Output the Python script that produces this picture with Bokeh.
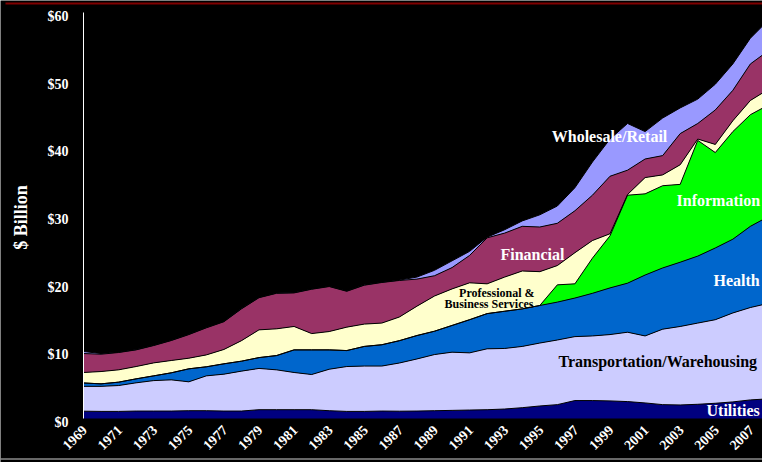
import math
import numpy as np
from bokeh.plotting import figure
from bokeh.models import ColumnDataSource, Range1d, Label
from bokeh.embed import file_html
from bokeh.resources import INLINE

years = list(range(1969, 2009))

utilities = [1.08, 1.05, 1.05, 1.10, 1.10, 1.10, 1.15, 1.15, 1.10, 1.10,
             1.30, 1.30, 1.30, 1.30, 1.15, 1.05, 1.05, 1.10, 1.08, 1.10,
             1.15, 1.20, 1.25, 1.30, 1.40, 1.60, 1.85, 2.05, 2.65, 2.65,
             2.60, 2.50, 2.30, 2.05, 2.00, 2.10, 2.25, 2.45, 2.75, 2.90]
transportation = [3.67, 3.70, 3.82, 4.17, 4.50, 4.61, 4.27, 5.15, 5.45, 5.90,
                  6.10, 5.89, 5.50, 5.20, 6.13, 6.63, 6.70, 6.65, 7.12, 7.70,
                  8.30, 8.60, 8.45, 9.00, 8.95, 9.05, 9.30, 9.55, 9.45, 9.55,
                  9.80, 10.25, 9.90, 11.15, 11.60, 12.00, 12.35, 13.15, 13.65, 14.10]
health = [0.50, 0.37, 0.50, 0.59, 0.70, 1.04, 1.92, 1.34, 1.53, 1.47,
          1.60, 2.11, 3.34, 3.64, 2.86, 2.36, 2.90, 3.15, 3.30, 3.46,
          3.45, 3.95, 4.90, 5.20, 5.50, 5.55, 5.55, 5.60, 5.70, 6.30,
          6.90, 7.25, 9.00, 9.05, 9.50, 9.90, 10.60, 10.90, 12.00, 12.80]
information = [0, 0, 0, 0, 0, 0, 0, 0, 0, 0,
               0, 0, 0, 0, 0, 0, 0, 0, 0, 0,
               0, 0, 0, 0, 0, 0, 0, 2.55, 2.10, 5.20,
               7.70, 13.00, 12.00, 12.15, 11.50, 17.10, 14.10, 15.90, 16.50, 16.50]
professional = [1.55, 1.82, 1.82, 1.82, 1.92, 1.82, 1.57, 1.76, 2.12, 3.03,
                4.10, 3.95, 3.46, 2.41, 2.71, 3.46, 3.30, 3.20, 3.50, 4.34,
                5.20, 5.40, 5.45, 4.40, 5.05, 5.60, 5.00, 2.85, 4.60, 2.60,
                0.30, 0.10, 2.40, 1.60, 2.90, 0.20, 1.20, 1.60, 2.10, 2.30]
financial = [2.80, 2.56, 2.56, 2.46, 2.56, 2.95, 3.49, 4.00, 4.10, 4.70,
             4.75, 5.25, 4.96, 6.55, 6.65, 5.30, 5.75, 6.00, 5.40, 4.00,
             3.00, 3.15, 4.05, 6.80, 6.50, 6.60, 6.60, 6.25, 6.20, 6.70,
             8.50, 3.60, 2.75, 2.85, 4.60, 2.30, 5.10, 4.50, 5.40, 5.70]
wholesale = [0.30, 0.10, 0.05, 0.05, 0.05, 0.05, 0.05, 0.05, 0.05, 0.05,
             0.05, 0.05, 0.05, 0.05, 0.05, 0.05, 0.05, 0.05, 0.05, 0.30,
             0.80, 1.00, 0.60, 0.10, 0.50, 0.80, 1.80, 2.55, 3.40, 4.90,
             5.50, 6.90, 4.05, 5.55, 3.80, 3.60, 3.80, 3.90, 3.80, 4.50]

series_names = ["utilities", "transportation", "health", "information",
                "professional", "financial", "wholesale"]
series_colors = ["#000080", "#CCCCFF", "#0066CC", "#00FF00",
                 "#FFFFCC", "#993366", "#9999FF"]

y_ticks = [0, 10, 20, 30, 40, 50, 60]
y_tick_labels = ["$0", "$10", "$20", "$30", "$40", "$50", "$60"]
x_ticks = list(range(1969, 2008, 2))
x_tick_labels = [str(y) for y in x_ticks]
y_title = "$ Billion"

label_texts = ["Wholesale/Retail", "Information", "Financial", "Health",
               "Professional &", "Business Services",
               "Transportation/Warehousing", "Utilities"]

data = dict(year=years, utilities=utilities, transportation=transportation,
            health=health, information=information, professional=professional,
            financial=financial, wholesale=wholesale)
source = ColumnDataSource(data)

FONT = "Liberation Serif"
W, H = 762, 462
PX_PER_YEAR = 17.55            # horizontal scale
PX_PER_BILLION = 406 / 60.0    # vertical scale
X0_PX, Y0_PX = 83, 418         # pixel position of (1969, $0)


def xd(px):
    return years[0] + (px - X0_PX) / PX_PER_YEAR


def yd(py):
    return (Y0_PX - py) / PX_PER_BILLION


p = figure(width=W, height=H, output_backend="svg", toolbar_location=None,
           x_range=Range1d(xd(0), xd(W)), y_range=Range1d(yd(H), yd(0)),
           background_fill_color="black", border_fill_color="black",
           outline_line_color=None,
           min_border_left=0, min_border_right=0, min_border_top=0,
           min_border_bottom=0)
p.axis.visible = False
p.grid.visible = False

p.varea_stack(stackers=series_names, x="year", color=series_colors, source=source)

cum = np.zeros(len(years))
for name in series_names:
    cum = cum + np.array(data[name], dtype=float)
    p.line(years, cum.tolist(), line_color="black", line_width=1)

# value axis line
p.segment(x0=[years[0]], y0=[y_ticks[0]], x1=[years[0]], y1=[y_ticks[-1]],
          line_color="white", line_width=1)

# value axis tick labels
for v, t in zip(y_ticks, y_tick_labels):
    p.add_layout(Label(x=xd(X0_PX - 15), y=v - 4 / PX_PER_BILLION, text=t,
                       text_color="white", text_align="right",
                       text_baseline="middle", text_font=FONT,
                       text_font_style="bold", text_font_size="14px"))

# category axis tick labels (rotated 45 degrees, ending at the tick)
for v, t in zip(x_ticks, x_tick_labels):
    p.add_layout(Label(x=v + 1 / PX_PER_YEAR, y=yd(Y0_PX + 9), text=t,
                       angle=math.pi / 4, text_color="white", text_align="right",
                       text_baseline="middle", text_font=FONT,
                       text_font_style="bold", text_font_size="14px"))

# axis title
p.add_layout(Label(x=xd(20), y=yd(217), text=y_title, angle=math.pi / 2,
                   text_color="white", text_align="center",
                   text_baseline="middle", text_font=FONT,
                   text_font_style="bold", text_font_size="18px"))

# in-chart labels (pixel anchors converted to data coordinates)
label_px = [609, 676, 532, 713, 534, 533, 558, 706]
label_py = [136, 200, 254, 280, 292, 303, 361, 410]
label_colors = ["white", "white", "white", "white", "black", "black", "black", "white"]
label_align = ["center", "left", "center", "left", "right", "right", "left", "left"]
label_sizes = ["16px", "16px", "16px", "16px", "12px", "12px", "16px", "16px"]

for t, lx, ly, c, a, s in zip(label_texts, label_px, label_py, label_colors, label_align, label_sizes):
    p.add_layout(Label(x=xd(lx), y=yd(ly), text=t, text_color=c, text_align=a,
                       text_baseline="middle", text_font=FONT,
                       text_font_style="bold", text_font_size=s))

# thin decorative rules at the top and bottom of the slide
p.segment(x0=[xd(5)], y0=[yd(3)], x1=[xd(W)], y1=[yd(3)],
          line_color="#800000", line_width=2)
p.segment(x0=[xd(0)], y0=[yd(458.5)], x1=[xd(W)], y1=[yd(458.5)],
          line_color="#cfcfcf", line_width=1)

open("out.html", "w").write(file_html(p, INLINE))
